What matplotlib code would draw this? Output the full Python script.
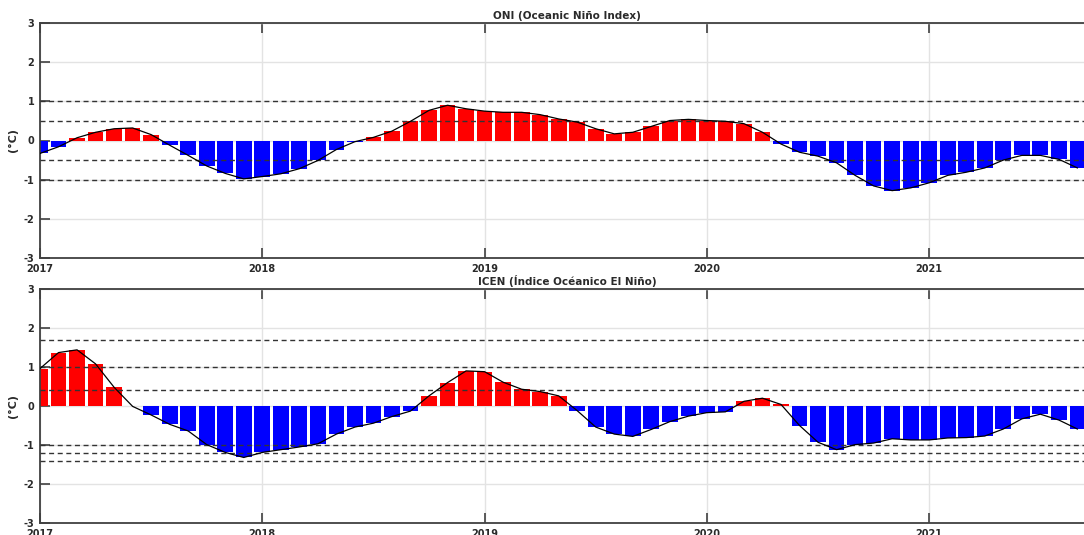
import numpy as np
import matplotlib
matplotlib.use('Agg')
import matplotlib.pyplot as plt

plt.rcParams['axes.unicode_minus'] = False

# monthly values, Jan 2017 - Sep 2021
START_YEAR = 2017
oni = [-0.33, -0.16, 0.07, 0.21, 0.30, 0.32, 0.15, -0.12, -0.38, -0.65, -0.84, -0.98,
       -0.92, -0.85, -0.72, -0.51, -0.23, -0.03, 0.08, 0.24, 0.49, 0.77, 0.90, 0.81,
       0.75, 0.72, 0.72, 0.66, 0.55, 0.47, 0.30, 0.17, 0.21, 0.36, 0.51, 0.54,
       0.51, 0.49, 0.43, 0.21, -0.09, -0.30, -0.40, -0.57, -0.89, -1.16, -1.28, -1.21,
       -1.08, -0.89, -0.81, -0.70, -0.50, -0.38, -0.38, -0.48, -0.70]
icen = [0.96, 1.37, 1.44, 1.08, 0.48, -0.01, -0.23, -0.47, -0.64, -0.99, -1.19, -1.32,
        -1.19, -1.12, -1.05, -0.97, -0.72, -0.54, -0.44, -0.27, -0.13, 0.26, 0.60, 0.90,
        0.88, 0.61, 0.43, 0.37, 0.26, -0.12, -0.54, -0.72, -0.78, -0.60, -0.40, -0.26,
        -0.17, -0.15, 0.12, 0.20, 0.04, -0.50, -0.93, -1.12, -0.99, -0.95, -0.84, -0.87,
        -0.87, -0.82, -0.81, -0.77, -0.59, -0.33, -0.21, -0.36, -0.59]

oni_thresholds = [1.0, 0.5, -0.5, -1.0]
icen_thresholds = [1.7, 1.0, 0.4, -1.0, -1.2, -1.4]
titles = ['ONI (Oceanic Niño Index)', 'ICEN (Índice Océanico El Niño)']
years = [2017, 2018, 2019, 2020, 2021]
yticks = [-3, -2, -1, 0, 1, 2, 3]

W, H = 1084, 535
fig = plt.figure(figsize=(W / 100, H / 100), dpi=100)
family = 'DejaVu Sans'
edge = '#404040'
txt = '#2a2a2a'

# axes boxes in pixels: left, top, right, bottom
boxes = [(40, 23, 1094, 258), (40, 289, 1094, 523)]
series = [oni, icen]
thresholds = [oni_thresholds, icen_thresholds]

for k in range(2):
    l, t, r, b = boxes[k]
    ax = fig.add_axes([l / W, 1 - b / H, (r - l) / W, (b - t) / H])
    vals = np.array(series[k])
    x = START_YEAR + np.arange(len(vals)) / 12.0
    colors = np.where(vals >= 0, '#ff0000', '#0000ff')
    ax.bar(x, vals, width=0.85 / 12, color=colors, linewidth=0, zorder=2)
    ax.plot(x, vals, color='black', lw=0.9, zorder=4)
    for th in thresholds[k]:
        ax.axhline(th, color='#333333', lw=1.0, dashes=(3.6, 2.6), zorder=3)

    ax.set_xlim(START_YEAR, START_YEAR + (r - l) / 222.3)
    ax.set_ylim(-3, 3)
    ax.set_xticks(years)
    ax.set_xticklabels([str(y) for y in years])
    ax.set_yticks(yticks)
    ax.grid(True, color='#e3e3e3', lw=1.0, zorder=0)
    ax.set_axisbelow(True)
    ax.tick_params(axis='both', direction='in', length=7, width=1.2, color=edge,
                   labelsize=7, labelcolor=txt, pad=4, top=True)
    ax.tick_params(axis='x', pad=4)
    for lab in ax.get_xticklabels() + ax.get_yticklabels():
        lab.set_fontweight('bold')
        lab.set_family(family)
    for side in ['left', 'top', 'bottom']:
        ax.spines[side].set_color(edge)
        ax.spines[side].set_linewidth(1.3)
    ax.spines['right'].set_visible(False)
    ax.set_ylabel('(°C)', fontsize=8, fontweight='bold', color=txt, family=family, labelpad=4)
    ax.set_title(titles[k], fontsize=7.5, fontweight='bold', color=txt, family=family, pad=3)

plt.savefig('out.png', dpi=100)
